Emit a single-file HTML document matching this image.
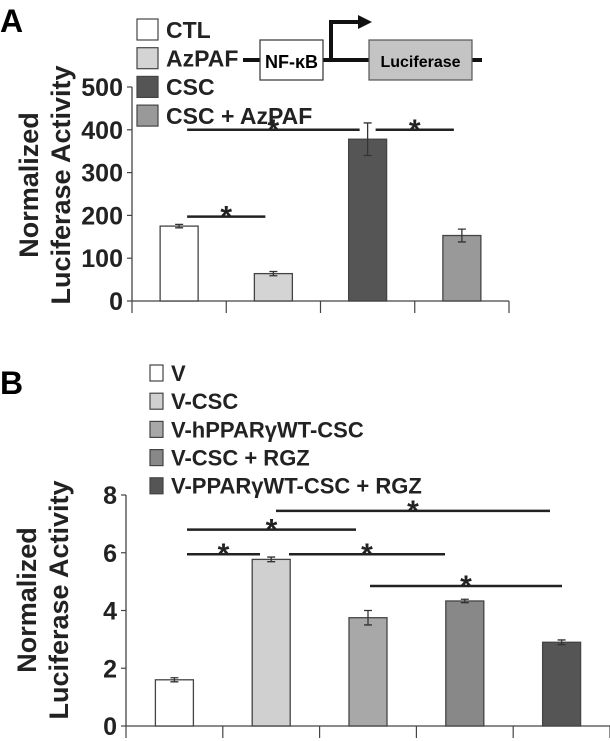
<!DOCTYPE html>
<html><head><meta charset="utf-8"><style>
body{margin:0;background:#fff}
svg{display:block;font-family:"Liberation Sans",Arial,sans-serif;font-weight:bold}
</style></head><body>
<svg id="s" width="610" height="741" viewBox="0 0 610 741">
<text x="0" y="32" font-size="32">A</text>
<text x="0" y="394" font-size="32">B</text>
<g>
<line x1="243" y1="60" x2="482" y2="60" stroke="#111" stroke-width="4"/>
<rect x="260" y="40" width="63" height="40" fill="#fff" stroke="#333" stroke-width="1.2"/>
<text x="291.5" y="68" font-size="18" text-anchor="middle">NF-κB</text>
<polyline points="331,60 331,22 360,22" fill="none" stroke="#111" stroke-width="4"/>
<polygon points="358,15 372,22 358,29" fill="#111"/>
<rect x="369" y="40" width="103" height="40" fill="#c4c4c4" stroke="#555" stroke-width="1.2"/>
<text x="420.5" y="67" font-size="16" text-anchor="middle">Luciferase</text>
</g>
<g id="A"></g><g id="B"></g>
</svg>
<script>
const NS='http://www.w3.org/2000/svg';
function mk(p,t,a){const e=document.createElementNS(NS,t);for(const k in a)e.setAttribute(k,a[k]);p.appendChild(e);return e;}
// Panel A data
const aCategories=['CTL','AzPAF','CSC','CSC + AzPAF'];
const aValues=[175,64,378,153];
const aErrors=[4,5,38,15];
const aColors=['#ffffff','#d4d4d4','#555555','#999999'];
const aTicks=[0,100,200,300,400,500];
const aSig=[[0,1,197],[0,2,400],[2,3,400]];
// Panel B data
const bCategories=['V','V-CSC','V-hPPARγWT-CSC','V-CSC + RGZ','V-PPARγWT-CSC + RGZ'];
const bValues=[1.6,5.77,3.75,4.33,2.9];
const bErrors=[0.07,0.08,0.25,0.06,0.08];
const bColors=['#ffffff','#d0d0d0','#a8a8a8','#888888','#555555'];
const bTicks=[0,2,4,6,8];
const bSig=[[0,2,6.8,187,356],[1,4,7.45,276,550],[0,1,5.95,187,260],[1,3,5.95,289,445],[2,4,4.85,370,562]];

function panel(g,cfg){
  const y=v=>cfg.y0-(v-cfg.vmin)*cfg.ppu;
  const n=cfg.cats.length, step=(cfg.x1-cfg.x0)/n;
  const cx=i=>cfg.x0+step*(i+0.5);
  const ax=mk(g,'line',{x1:cfg.x0,y1:y(cfg.ticks[cfg.ticks.length-1]),x2:cfg.x0,y2:cfg.y0,stroke:'#444','stroke-width':1.3});
  
  
  const xa=mk(g,'line',{x1:cfg.x0,y1:cfg.y0,x2:cfg.x1,y2:cfg.y0,stroke:'#444','stroke-width':1.3});
  
  
  for(let i=0;i<=n;i++){mk(g,'line',{x1:cfg.x0+step*i,y1:cfg.y0,x2:cfg.x0+step*i,y2:cfg.y0+12,stroke:'#444','stroke-width':1.2});}
  cfg.ticks.forEach(t=>{
    mk(g,'line',{x1:cfg.x0-5,y1:y(t),x2:cfg.x0,y2:y(t),stroke:'#444','stroke-width':1.2});
    const tx=mk(g,'text',{x:cfg.x0-9,y:y(t)+9,'font-size':25,'text-anchor':'end',fill:'#222'});
    tx.textContent=t;
    
    
  });
  cfg.vals.forEach((v,i)=>{
    const r=mk(g,'rect',{x:cx(i)-19,y:y(v),width:38,height:cfg.y0-y(v),fill:cfg.cols[i],stroke:'#444','stroke-width':1.3});
    
    
    const e=cfg.errs[i];
    mk(g,'path',{d:`M${cx(i)},${y(v+e)}V${y(v-e)}M${cx(i)-4},${y(v+e)}h8M${cx(i)-4},${y(v-e)}h8`,stroke:'#333','stroke-width':1.3,fill:'none'});
  });
  cfg.sig.forEach(s=>{
    let xa1,xb;
    if(s.length>3){xa1=s[3];xb=s[4];}else{xa1=cx(s[0])+8;xb=cx(s[1])-8;}
    const l=mk(g,'line',{x1:xa1,y1:y(s[2]),x2:xb,y2:y(s[2]),stroke:'#222','stroke-width':2.5});
    
    
    const st=mk(g,'text',{x:(xa1+xb)/2,y:y(s[2])+10,'font-size':30,'text-anchor':'middle',fill:'#222'});
    st.textContent='*';
  });
  const yl=mk(g,'text',{transform:`translate(${cfg.labx},${cfg.laby}) rotate(-90)`,'font-size':27,'text-anchor':'middle',fill:'#222'});
  
  
  const t1=mk(yl,'tspan',{x:0,dy:0});t1.textContent='Normalized';
  const t2=mk(yl,'tspan',{x:0,dy:32});t2.textContent='Luciferase Activity';
  cfg.cats.forEach((c,i)=>{
    const ly=cfg.leg.y0+i*cfg.leg.dy;
    const b=mk(g,'rect',{x:cfg.leg.x,y:ly,width:cfg.leg.w,height:cfg.leg.h,fill:cfg.cols[i],stroke:'#444','stroke-width':1.2});
    
    
    const lt=mk(g,'text',{x:cfg.leg.x+cfg.leg.w+8,y:ly+cfg.leg.h/2+cfg.leg.fs*0.36,'font-size':cfg.leg.fs,fill:'#222'});
    lt.textContent=c;
    
    
  });
}
panel(document.getElementById('A'),{cats:aCategories,vals:aValues,errs:aErrors,cols:aColors,ticks:aTicks,sig:aSig,
  x0:132,x1:509,y0:301,vmin:0,ppu:214/500,labx:38,laby:185,
  leg:{x:137,y0:19,dy:28.7,w:21,h:21,fs:23}});
panel(document.getElementById('B'),{cats:bCategories,vals:bValues,errs:bErrors,cols:bColors,ticks:bTicks,sig:bSig,
  x0:126,x1:610,y0:726,vmin:0,ppu:231/8,labx:36,laby:600,
  leg:{x:150,y0:365,dy:28.2,w:13,h:16,fs:22}});
</script>
</body></html>
